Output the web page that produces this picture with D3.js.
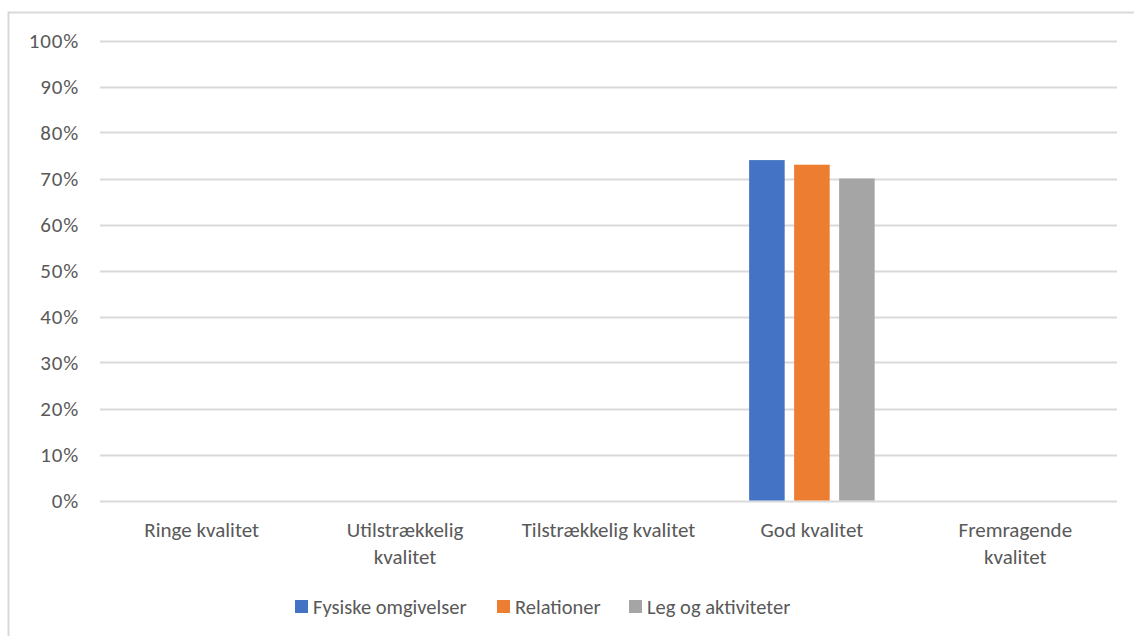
<!DOCTYPE html>
<html>
<head>
<meta charset="utf-8">
<script src="https://cdn.jsdelivr.net/npm/d3@7"></script>
<style>
  body { margin: 0; background: #fff; }
  svg text { font-family: Calibri, Carlito, Lato, sans-serif; fill: #595959; }
</style>
</head>
<body>
<svg id="chart" width="1134" height="636"></svg>
<script>
// categories and how their labels wrap
const categories = ["Ringe kvalitet", "Utilstrækkelig kvalitet", "Tilstrækkelig kvalitet", "God kvalitet", "Fremragende kvalitet"];
const categoryLines = [["Ringe kvalitet"], ["Utilstrækkelig", "kvalitet"], ["Tilstrækkelig kvalitet"], ["God kvalitet"], ["Fremragende", "kvalitet"]];

// series
const seriesNames = ["Fysiske omgivelser", "Relationer", "Leg og aktiviteter"];
const fysiske = [0, 0, 0, 74, 0];
const relationer = [0, 0, 0, 73, 0];
const leg = [0, 0, 0, 70, 0];
const seriesColors = ["#4472C4", "#ED7D31", "#A5A5A5"];

const yTicks = [0, 10, 20, 30, 40, 50, 60, 70, 80, 90, 100];

const svg = d3.select("#chart");

// frame of the chart
svg.append("rect")
    .attr("x", 8.5).attr("y", 12.5)
    .attr("width", 1140).attr("height", 640)
    .attr("fill", "none")
    .attr("stroke", "#d9d9d9")
    .attr("stroke-width", 2);

const x = d3.scaleBand()
    .domain(categories)
    .range([100, 1117]);

const xInner = d3.scaleBand()
    .domain(seriesNames)
    .range([0, x.bandwidth()])
    .paddingInner(0.21)
    .paddingOuter(0.865);

const y = d3.scaleLinear()
    .domain([0, 100])
    .range([500.5, 40.5]);

// gridlines
svg.append("g").selectAll("line")
    .data(yTicks)
    .enter()
    .append("line")
    .attr("x1", 100).attr("x2", 1117)
    .attr("y1", d => Math.round(y(d)) + 0.5)
    .attr("y2", d => Math.round(y(d)) + 0.5)
    .attr("stroke", "#d9d9d9")
    .attr("stroke-width", 2);

// y labels
svg.append("g").selectAll("text")
    .data(yTicks)
    .enter()
    .append("text")
    .attr("x", 79)
    .attr("y", d => y(d))
    .attr("dy", "0.35em")
    .attr("text-anchor", "end")
    .style("font-size", "21px")
    .style("letter-spacing", "0.8px")
    .text(d => d + "%");

// bars
const series = [fysiske, relationer, leg];
series.forEach((vals, si) => {
    svg.append("g").selectAll("rect")
        .data(vals)
        .enter()
        .append("rect")
        .attr("x", (d, i) => x(categories[i]) + xInner(seriesNames[si]))
        .attr("y", d => y(d))
        .attr("width", xInner.bandwidth())
        .attr("height", d => y(0) - y(d))
        .attr("fill", seriesColors[si]);
});

// category labels
const cat = svg.append("g").selectAll("text")
    .data(categories)
    .enter()
    .append("text")
    .attr("text-anchor", "middle")
    .style("font-size", "21px")
    .attr("transform", d => "translate(" + (x(d) + x.bandwidth() / 2) + ",537)");

cat.selectAll("tspan")
    .data((d, i) => categoryLines[i])
    .enter()
    .append("tspan")
    .attr("x", 0)
    .attr("y", (d, i) => i * 27)
    .text(d => d);

// legend
const legendX = [295, 497, 629];
const legend = svg.append("g").selectAll("g")
    .data(seriesNames)
    .enter()
    .append("g")
    .attr("transform", (d, i) => "translate(" + legendX[i] + ",600)");

legend.append("rect")
    .attr("width", 13).attr("height", 13)
    .attr("fill", (d, i) => seriesColors[i]);

legend.append("text")
    .attr("x", 18)
    .attr("y", 6.5)
    .attr("dy", "0.35em")
    .style("font-size", "20.5px")
    .text(d => d);
</script>
</body>
</html>
